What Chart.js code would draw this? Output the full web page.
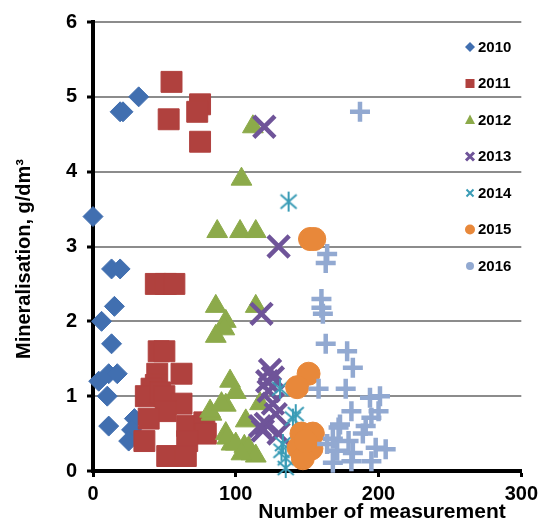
<!DOCTYPE html>
<html lang="en">
<head>
<meta charset="UTF-8">
<title>Mineralisation by number of measurement</title>
<style>
  body { margin: 0; background: #fff; }
  #wrap { width: 543px; height: 519px; }
</style>
<script src="https://cdn.jsdelivr.net/npm/chart.js"></script>
</head>
<body>
<div id="wrap"><canvas id="chart" width="543" height="519"></canvas></div>
<script>
// tick labels
const xTicks = [0, 100, 200, 300];
const yTicks = [0, 1, 2, 3, 4, 5, 6];

const years = ['2010', '2011', '2012', '2013', '2014', '2015', '2016'];

const x2010 = [0, 19, 21, 32, 13, 19, 15, 6, 13, 11, 17, 4, 10, 11, 29, 27, 25];
const y2010 = [3.4, 4.8, 4.8, 5.0, 2.7, 2.7, 2.2, 2.0, 1.7, 1.3, 1.3, 1.2, 1.0, 0.6, 0.7, 0.55, 0.4];

const x2011 = [55, 53, 75, 73, 75, 44, 51, 57, 46, 50, 45, 62, 44, 41, 37, 47, 50, 62, 51, 39, 66, 78, 79, 36, 66, 52, 65];
const y2011 = [5.2, 4.7, 4.9, 4.8, 4.4, 2.5, 2.5, 2.5, 1.6, 1.6, 1.3, 1.3, 1.15, 1.1, 1.0, 1.05, 1.0, 0.9, 0.8, 0.7, 0.6, 0.65, 0.5, 0.4, 0.4, 0.2, 0.2];

const x2012 = [112, 104, 87, 103, 114, 86, 114, 93, 92, 86, 96, 100, 93, 83, 107, 93, 97, 106, 111, 82, 90, 117, 94, 100, 109, 114, 104];
const y2012 = [4.6, 3.9, 3.2, 3.2, 3.2, 2.2, 2.2, 2.0, 1.9, 1.8, 1.2, 1.05, 0.88, 0.76, 0.67, 0.5, 0.36, 0.33, 0.23, 0.8, 0.9, 0.9, 0.44, 0.36, 0.31, 0.2, 0.23];

const x2013 = [120, 130, 118, 124, 126, 122, 123, 126, 128, 121, 119, 130, 117];
const y2013 = [4.6, 3.0, 2.1, 1.35, 1.25, 1.2, 1.07, 0.9, 0.76, 0.63, 0.54, 0.5, 0.6];

const x2014 = [137, 131, 140, 142, 133, 135, 135, 132];
const y2014 = [3.6, 1.1, 0.7, 0.76, 0.36, 0.17, 0.04, 0.27];

const x2015 = [152, 155, 151, 143, 146, 154, 144, 153, 147, 149];
const y2015 = [3.1, 3.1, 1.3, 1.12, 0.5, 0.5, 0.31, 0.3, 0.17, 0.4];

const x2016 = [187, 164, 163, 160, 160, 161, 163, 178, 182, 158, 177, 194, 201, 181, 200, 195, 172, 189, 168, 179, 171, 182, 198, 205, 168, 195, 181, 164, 173, 191];
const y2016 = [4.8, 2.9, 2.78, 2.3, 2.18, 2.1, 1.7, 1.6, 1.38, 1.1, 1.1, 0.98, 1.0, 0.8, 0.8, 0.71, 0.58, 0.5, 0.43, 0.4, 0.27, 0.24, 0.31, 0.29, 0.11, 0.13, 0.13, 0.36, 0.62, 0.6];

const colors = ['#416FB0', '#B0413E', '#8CAA4A', '#6F5499', '#3A9CB6', '#E8883A', '#92A9D1'];

const FONT = "'Liberation Sans', Arial, sans-serif";

function pairs(xs, ys) {
    return xs.map((x, i) => ({ x: x, y: ys[i] }));
}

// excel-like asterisk marker (x with a vertical bar)
function makeAsterisk(color) {
    const c = document.createElement('canvas');
    c.width = 22;
    c.height = 22;
    const g = c.getContext('2d');
    g.strokeStyle = color;
    g.lineWidth = 2;
    g.beginPath();
    g.moveTo(11, 1); g.lineTo(11, 21);
    g.moveTo(3, 4); g.lineTo(19, 18);
    g.moveTo(19, 4); g.lineTo(3, 18);
    g.stroke();
    return c;
}

function filled(i, style, r) {
    return {
        pointStyle: style,
        pointRadius: r,
        pointHoverRadius: r,
        backgroundColor: colors[i],
        borderColor: colors[i],
        pointBorderWidth: 1
    };
}

function stroked(i, style, r, w) {
    return {
        pointStyle: style,
        pointRadius: r,
        pointHoverRadius: r,
        backgroundColor: colors[i],
        borderColor: colors[i],
        pointBorderWidth: w
    };
}

const series = [
    [x2010, y2010, filled(0, 'rectRot', 10)],
    [x2011, y2011, filled(1, 'rect', 14.8)],
    [x2012, y2012, filled(2, 'triangle', 12)],
    [x2013, y2013, stroked(3, 'crossRot', 15, 4.5)],
    [x2014, y2014, stroked(4, makeAsterisk(colors[4]), 10, 1)],
    [x2015, y2015, filled(5, 'circle', 11.5)],
    [x2016, y2016, stroked(6, 'cross', 10, 4.5)]
];

const datasets = series.map((s, i) => Object.assign({
    label: years[i],
    data: pairs(s[0], s[1]),
    clip: false,
    order: series.length - i
}, s[2]));

// legend inside the plot + axis titles
const overlay = {
    id: 'overlay',
    afterDraw(chart) {
        const ctx = chart.ctx;
        ctx.save();

        // legend
        ctx.font = 'bold 15px ' + FONT;
        ctx.textBaseline = 'middle';
        ctx.textAlign = 'left';
        years.forEach((yr, i) => {
            const cy = 47 + i * 36.5;
            const cx = 470;
            ctx.fillStyle = colors[i];
            ctx.strokeStyle = colors[i];
            ctx.beginPath();
            if (i === 0) {
                ctx.moveTo(cx - 5, cy); ctx.lineTo(cx, cy - 5); ctx.lineTo(cx + 5, cy); ctx.lineTo(cx, cy + 5);
                ctx.closePath(); ctx.fill();
            } else if (i === 1) {
                ctx.fillRect(cx - 4.5, cy - 4.5, 9, 9);
            } else if (i === 2) {
                ctx.moveTo(cx, cy - 5.5); ctx.lineTo(cx + 5, cy + 4); ctx.lineTo(cx - 5, cy + 4);
                ctx.closePath(); ctx.fill();
            } else if (i === 3) {
                ctx.lineWidth = 3;
                ctx.moveTo(cx - 4, cy - 4); ctx.lineTo(cx + 4, cy + 4);
                ctx.moveTo(cx + 4, cy - 4); ctx.lineTo(cx - 4, cy + 4);
                ctx.stroke();
            } else if (i === 4) {
                ctx.lineWidth = 2;
                ctx.moveTo(cx - 3.5, cy - 3.5); ctx.lineTo(cx + 3.5, cy + 3.5);
                ctx.moveTo(cx + 3.5, cy - 3.5); ctx.lineTo(cx - 3.5, cy + 3.5);
                ctx.stroke();
            } else if (i === 5) {
                ctx.arc(cx, cy, 5, 0, Math.PI * 2); ctx.fill();
            } else {
                ctx.arc(cx, cy, 4, 0, Math.PI * 2); ctx.fill();
            }
            ctx.fillStyle = '#000';
            ctx.fillText(yr, 478, cy + 0.5);
        });

        // axis titles
        ctx.fillStyle = '#000';
        ctx.font = 'bold 21px ' + FONT;
        ctx.textAlign = 'center';
        ctx.textBaseline = 'alphabetic';
        ctx.fillText('Number of measurement', 382, 518);

        ctx.font = 'bold 20px ' + FONT;
        ctx.translate(30, 259);
        ctx.rotate(-Math.PI / 2);
        ctx.fillText('Mineralisation, g/dm\u00B3', 0, 0);
        ctx.restore();
    }
};

new Chart(document.getElementById('chart'), {
    type: 'scatter',
    data: { datasets: datasets },
    plugins: [overlay],
    options: {
        responsive: false,
        animation: false,
        events: [],
        layout: { padding: { top: 22, right: 20, left: 0, bottom: 0 } },
        plugins: {
            legend: { display: false },
            tooltip: { enabled: false }
        },
        scales: {
            x: {
                type: 'linear',
                min: xTicks[0],
                max: xTicks[xTicks.length - 1],
                afterBuildTicks(scale) { scale.ticks = xTicks.map(v => ({ value: v })); },
                afterFit(scale) { scale.height = 48; },
                ticks: {
                    color: '#000',
                    padding: 5,
                    font: { family: FONT, size: 20, weight: 'bold' }
                },
                grid: {
                    drawOnChartArea: false,
                    drawTicks: true,
                    tickLength: 6,
                    tickWidth: 3,
                    tickColor: '#000'
                },
                border: { color: '#000', width: 4 }
            },
            y: {
                type: 'linear',
                min: yTicks[0],
                max: yTicks[yTicks.length - 1],
                afterBuildTicks(scale) { scale.ticks = yTicks.map(v => ({ value: v })); },
                afterFit(scale) { scale.width = 93; },
                ticks: {
                    color: '#000',
                    padding: 10,
                    font: { family: FONT, size: 20, weight: 'bold' }
                },
                grid: {
                    color: '#8C8C8C',
                    lineWidth: 2,
                    drawTicks: true,
                    tickLength: 6,
                    tickWidth: 3,
                    tickColor: '#000'
                },
                border: { color: '#000', width: 4 }
            }
        }
    }
});
</script>
</body>
</html>
